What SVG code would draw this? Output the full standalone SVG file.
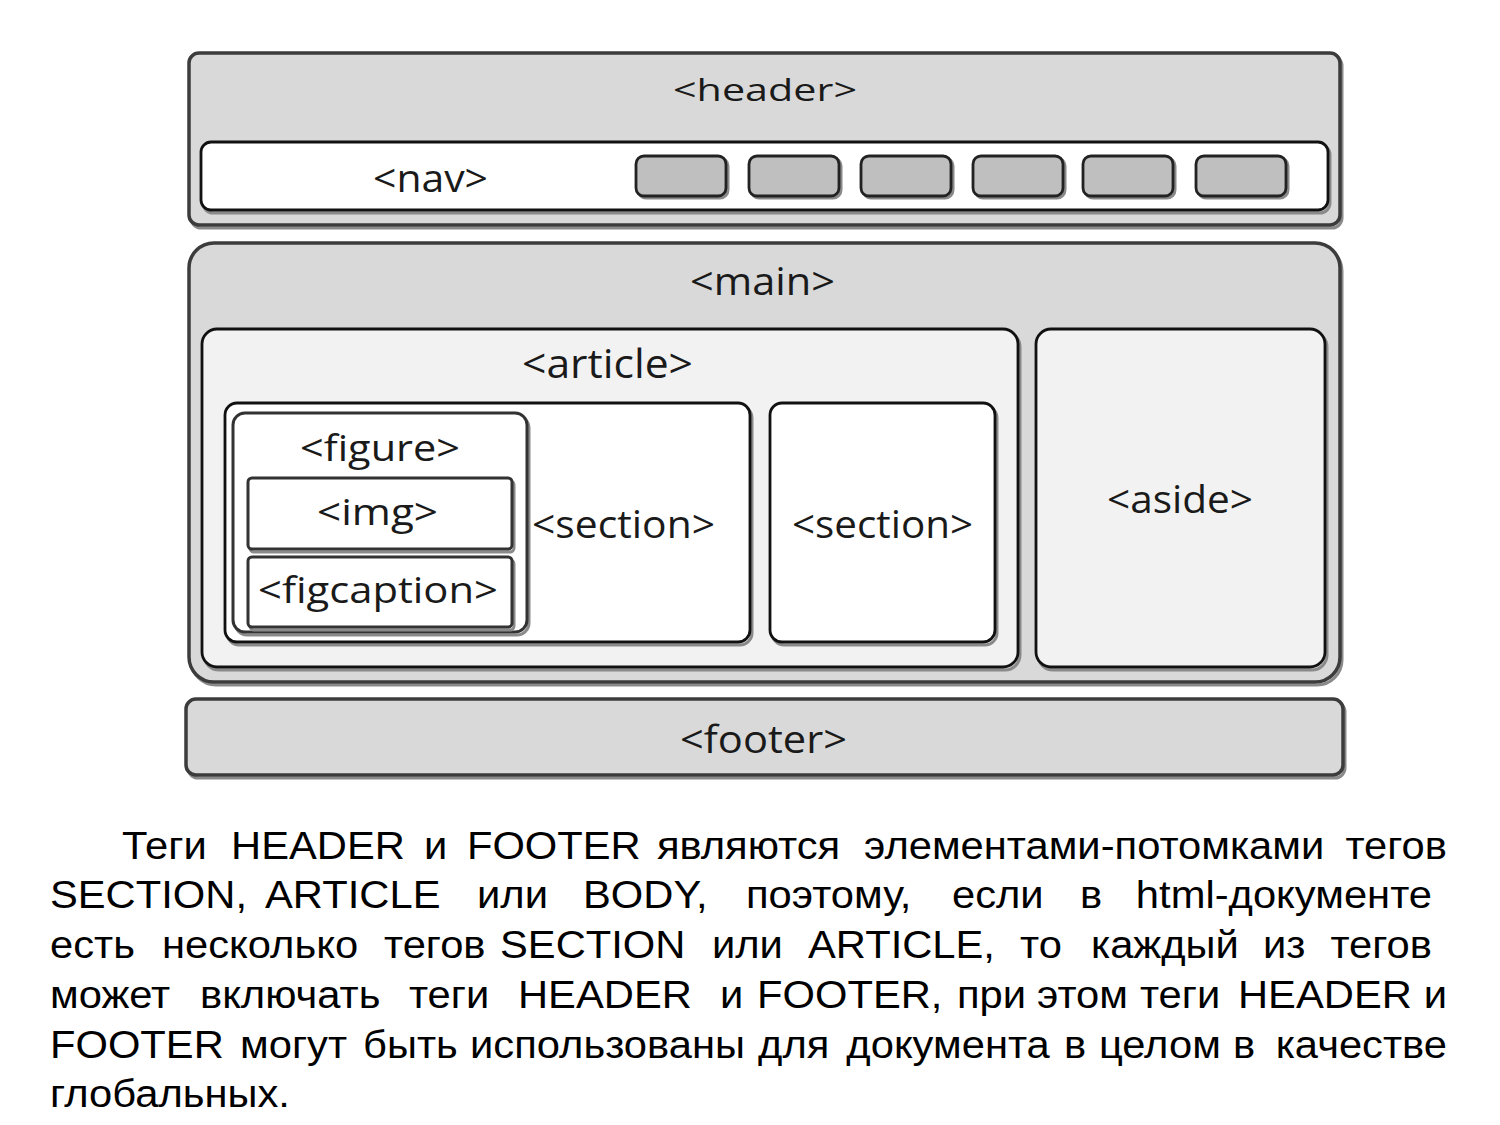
<svg xmlns="http://www.w3.org/2000/svg" width="1500" height="1125" viewBox="0 0 1500 1125">
<style>
.outer{fill:#d9d9d9;stroke:#3c3c3c;stroke-width:3.5}
.sh{fill:none;stroke:#8a8a8a;stroke-width:3}
.inner{stroke:#111;stroke-width:2.8}
.white{fill:#fff}
.light{fill:#f2f2f2}
.btn{fill:#bfbfbf;stroke:#222;stroke-width:2.8}
.fig{fill:#fff;stroke:#333;stroke-width:3}
.lbl{font-family:"Open Sans","Noto Sans","DejaVu Sans",sans-serif;fill:#1a1a1a}
.para{font-family:"Liberation Sans",Arial,sans-serif;font-size:39px;fill:#000}
</style>
<rect width="1500" height="1125" fill="#fff"/>

<g id="header">
<rect class="sh" x="191" y="56" width="1151" height="172" rx="10"/>
<rect class="outer" x="189" y="53" width="1151" height="172" rx="10"/>
<text class="lbl" x="673" y="101" font-size="31" textLength="184" lengthAdjust="spacingAndGlyphs">&lt;header&gt;</text>
</g>

<g id="nav">
<rect class="sh" x="203" y="145" width="1127" height="68" rx="10"/>
<rect class="inner white" x="201" y="142" width="1127" height="68" rx="10"/>
<text class="lbl" x="373" y="192" font-size="38" textLength="115" lengthAdjust="spacingAndGlyphs">&lt;nav&gt;</text>
</g>

<g id="nav-buttons">
<rect class="sh" x="638" y="158" width="90" height="40" rx="8"/>
<rect class="btn" x="636" y="156" width="90" height="40" rx="8"/>
<rect class="sh" x="751" y="158" width="90" height="40" rx="8"/>
<rect class="btn" x="749" y="156" width="90" height="40" rx="8"/>
<rect class="sh" x="863" y="158" width="90" height="40" rx="8"/>
<rect class="btn" x="861" y="156" width="90" height="40" rx="8"/>
<rect class="sh" x="975" y="158" width="90" height="40" rx="8"/>
<rect class="btn" x="973" y="156" width="90" height="40" rx="8"/>
<rect class="sh" x="1085" y="158" width="90" height="40" rx="8"/>
<rect class="btn" x="1083" y="156" width="90" height="40" rx="8"/>
<rect class="sh" x="1198" y="158" width="90" height="40" rx="8"/>
<rect class="btn" x="1196" y="156" width="90" height="40" rx="8"/>
</g>

<g id="main">
<rect class="sh" x="191" y="246" width="1151" height="439" rx="25"/>
<rect class="outer" x="189" y="243" width="1151" height="439" rx="25"/>
<text class="lbl" x="690" y="295" font-size="38" textLength="145" lengthAdjust="spacingAndGlyphs">&lt;main&gt;</text>
</g>

<g id="article">
<rect class="sh" x="204" y="332" width="816" height="338" rx="15"/>
<rect class="inner light" x="202" y="329" width="816" height="338" rx="15"/>
<text class="lbl" x="522" y="378" font-size="40" textLength="171" lengthAdjust="spacingAndGlyphs">&lt;article&gt;</text>
</g>

<g id="aside">
<rect class="sh" x="1038" y="332" width="289" height="338" rx="15"/>
<rect class="inner light" x="1036" y="329" width="289" height="338" rx="15"/>
<text class="lbl" x="1107" y="513" font-size="39" textLength="146" lengthAdjust="spacingAndGlyphs">&lt;aside&gt;</text>
</g>

<g id="section-1">
<rect class="sh" x="227" y="406" width="525" height="239" rx="12"/>
<rect class="inner white" x="225" y="403" width="525" height="239" rx="12"/>
<text class="lbl" x="532" y="538" font-size="39" textLength="183" lengthAdjust="spacingAndGlyphs">&lt;section&gt;</text>
</g>

<g id="section-2">
<rect class="sh" x="772" y="406" width="225" height="239" rx="12"/>
<rect class="inner white" x="770" y="403" width="225" height="239" rx="12"/>
<text class="lbl" x="792" y="538" font-size="39" textLength="181" lengthAdjust="spacingAndGlyphs">&lt;section&gt;</text>
</g>

<g id="figure">
<rect class="sh" x="235" y="416" width="294" height="219" rx="12"/>
<rect class="fig" x="233" y="413" width="294" height="219" rx="12"/>
<text class="lbl" x="300" y="461" font-size="37" textLength="160" lengthAdjust="spacingAndGlyphs">&lt;figure&gt;</text>
</g>

<g id="img">
<rect class="sh" x="250" y="481" width="264" height="71" rx="4"/>
<rect class="fig" x="248" y="478" width="264" height="71" rx="4"/>
<text class="lbl" x="317" y="525" font-size="37" textLength="121" lengthAdjust="spacingAndGlyphs">&lt;img&gt;</text>
</g>

<g id="figcaption">
<rect class="sh" x="250" y="560" width="264" height="70" rx="4"/>
<rect class="fig" x="248" y="557" width="264" height="70" rx="4"/>
<text class="lbl" x="258" y="603" font-size="37" textLength="240" lengthAdjust="spacingAndGlyphs">&lt;figcaption&gt;</text>
</g>

<g id="footer">
<rect class="sh" x="188" y="702" width="1157" height="76" rx="10"/>
<rect class="outer" x="186" y="699" width="1157" height="76" rx="10"/>
<text class="lbl" x="680" y="753" font-size="39" textLength="167" lengthAdjust="spacingAndGlyphs">&lt;footer&gt;</text>
</g>

<g id="connectors"></g>

<g id="paragraph" class="para" transform="scale(1.07,1)">
<text y="859"><tspan x="114">Теги</tspan><tspan x="215.9">HEADER</tspan><tspan x="396.3">и</tspan><tspan x="436.4">FOOTER</tspan><tspan x="614">являются</tspan><tspan x="807.5">элементами-потомками</tspan></text>
<text y="859" x="1352.3" text-anchor="end">тегов</text>
<text y="908"><tspan x="46.7">SECTION,</tspan><tspan x="247.7">ARTICLE</tspan><tspan x="445.8">или</tspan><tspan x="544.9">BODY,</tspan><tspan x="697.2">поэтому,</tspan><tspan x="889.7">если</tspan><tspan x="1009.3">в</tspan></text>
<text y="908" x="1338.3" text-anchor="end">html-документе</text>
<text y="958"><tspan x="46.7">есть</tspan><tspan x="151.4">несколько</tspan><tspan x="358.9">тегов</tspan><tspan x="467.3">SECTION</tspan><tspan x="665.4">или</tspan><tspan x="755.1">ARTICLE,</tspan><tspan x="953.3">то</tspan><tspan x="1019.6">каждый</tspan><tspan x="1180.4">из</tspan></text>
<text y="958" x="1338.3" text-anchor="end">тегов</text>
<text y="1008"><tspan x="46.7">может</tspan><tspan x="186.9">включать</tspan><tspan x="382.2">теги</tspan><tspan x="484.1">HEADER</tspan><tspan x="672.9">и</tspan><tspan x="707.5">FOOTER,</tspan><tspan x="894.4">при</tspan><tspan x="969.2">этом</tspan><tspan x="1065.4">теги</tspan><tspan x="1157">HEADER</tspan></text>
<text y="1008" x="1352.3" text-anchor="end">и</text>
<text y="1058"><tspan x="46.7">FOOTER</tspan><tspan x="224.3">могут</tspan><tspan x="339.3">быть</tspan><tspan x="439.3">использованы</tspan><tspan x="708.5">для</tspan><tspan x="791">документа</tspan><tspan x="994.5">в</tspan><tspan x="1027">целом</tspan><tspan x="1152.3">в</tspan></text>
<text y="1058" x="1352.3" text-anchor="end">качестве</text>
<text y="1107" x="46.7">глобальных.</text>
</g>
</svg>
